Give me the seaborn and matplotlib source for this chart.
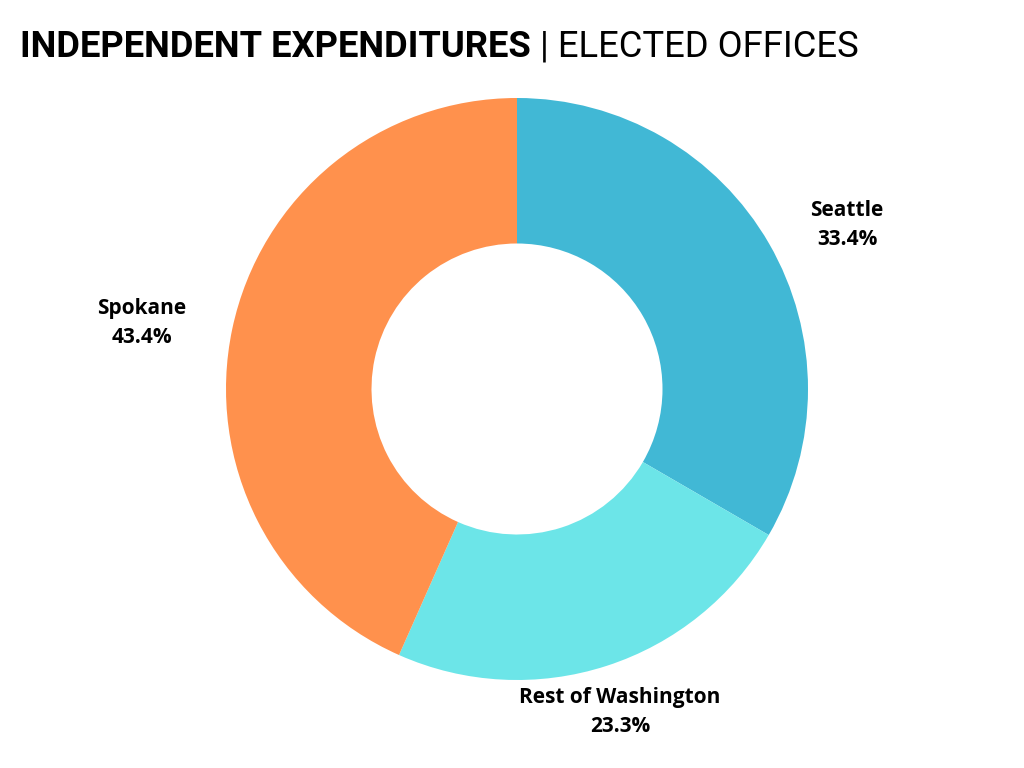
import matplotlib
matplotlib.use("Agg")
import matplotlib.pyplot as plt
import seaborn as sns
import numpy as np

regions = ["Seattle", "Rest of Washington", "Spokane"]
shares = [33.4, 23.3, 43.4]
colors = ["#41B8D5", "#6CE5E8", "#FF914D"]
title_bold = "INDEPENDENT EXPENDITURES"
title_light = " | ELECTED OFFICES"

sns.set_theme(style="white")
plt.rcParams["font.family"] = ["Roboto", "DejaVu Sans"]

W, H = 1024, 768
fig = plt.figure(figsize=(W / 100, H / 100), dpi=100)
fig.patch.set_facecolor("white")
ax = fig.add_axes([0, 0, 1, 1])

cx, cy, R = 517, 389, 291

wedges, _ = ax.pie(shares, colors=colors, startangle=90, counterclock=False,
                   radius=1.0, wedgeprops=dict(width=0.5, edgecolor="none"),
                   frame=False)
ax.set_axis_off()
ax.set_aspect("auto")
ax.set_xlim(-cx / R, (W - cx) / R)
ax.set_ylim(-(H - cy) / R, cy / R)

label_px = {"Seattle": (847, 225), "Rest of Washington": (620, 712), "Spokane": (142, 323)}
for name, val in zip(regions, shares):
    px, py = label_px[name]
    ax.text((px - cx) / R, (cy - py) / R, f"{name}\n{val:.1f}%", ha="center", va="center",
            fontsize=15, fontweight="bold", family=["Open Sans", "DejaVu Sans"],
            color="#000000", linespacing=1.45)

t1 = fig.text(20 / W, 1 - 57 / H, title_bold, fontsize=26.2, fontweight="bold",
              family=["Roboto", "DejaVu Sans"], color="#000000", ha="left", va="baseline")
fig.canvas.draw()
bb = t1.get_window_extent()
fig.text(bb.x1 / W, 1 - 57 / H, title_light, fontsize=26.2, fontweight="normal",
         family=["Roboto", "DejaVu Sans"], color="#000000", ha="left", va="baseline")

fig.savefig("out.png", dpi=100, facecolor="white")
